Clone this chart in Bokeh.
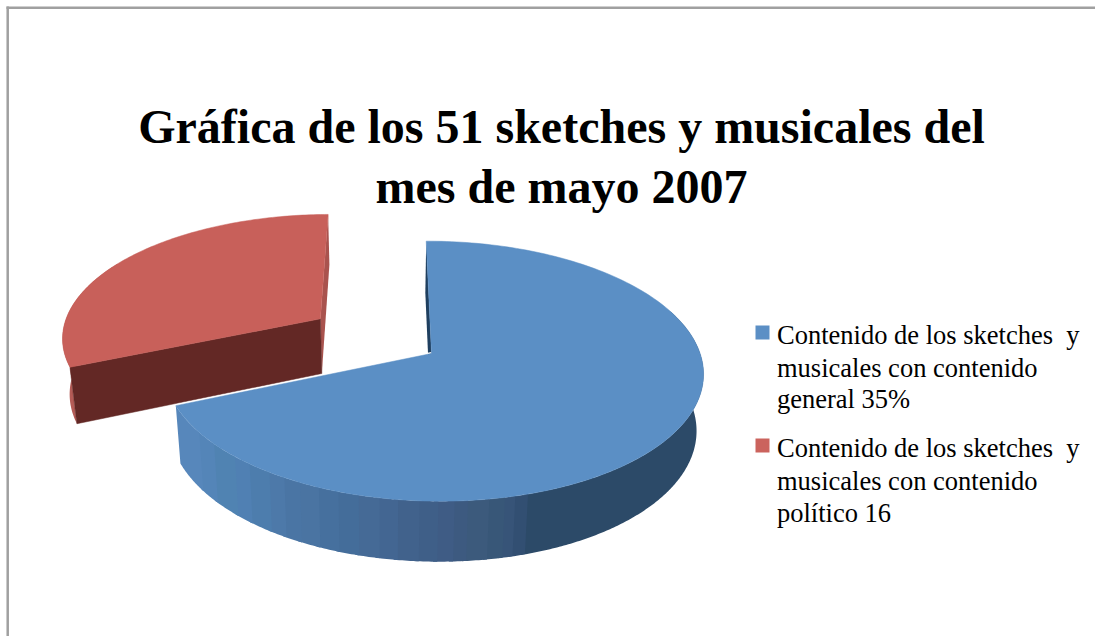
import math
from bokeh.plotting import figure
from bokeh.models import Range1d
from bokeh.core.properties import value
from bokeh.embed import file_html
from bokeh.resources import INLINE

# ---- data ----
categories = ["Contenido general", "Contenido político"]
values = [35, 16]
title_lines = ["Gráfica de los 51 sketches y musicales del", "mes de mayo 2007"]
legend_lines = [
    ["Contenido de los sketches \u00a0y", "musicales con contenido", "general 35%"],
    ["Contenido de los sketches \u00a0y", "musicales con contenido", "político 16"],
]
explosion = [0.0, 0.512]
top_colors = ["#5B8FC5", "#C8605A"]
legend_colors = ["#5B8FC5", "#CB635D"]

# side-wall shading of the blue slice, left to right on screen
wall_x = [176, 200, 215, 235, 250, 270, 285, 300, 320, 340, 360, 380, 400, 420, 440, 455, 470, 490, 505, 517, 528, 710]
wall_c = ["#5787BB", "#5485B8", "#5083B2", "#5080B3", "#4D7DAD", "#4D79A9", "#4A75A4", "#4A74A2", "#46709E",
          "#446D9A", "#456A96", "#436692", "#41628C", "#3F5F88", "#3F5C85", "#3D5A80", "#3C5A7C", "#385778",
          "#375478", "#324F72", "#2C4A68", "#27425E"]

# ---- projection of the pie plane to the page ----
OX, OY = 431.0, 353.0
S, D, K, C, G = 267.0, 6.0, 127.6, 0.136, 0.006
DEPTH, DEPTH_V, SHRINK, VX = 56.0, 4.5, 0.978, 385.0


def proj(u, v, low=False):
    w = 1 - C * v - G * u
    x = OX + (S * u + D * v) / w
    y = OY + K * v / w
    if low:
        x = VX + (x - VX) * SHRINK
        y = y + DEPTH + DEPTH_V * v
    return x, y


def rim(th, off, low=False):
    a = math.radians(th)
    return proj(off[0] + math.sin(a), off[1] - math.cos(a), low)


def arc(a0, a1, off, low=False, n=120):
    return [rim(a0 + (a1 - a0) * i / n, off, low) for i in range(n + 1)]


total = sum(values)
blue_end = values[0] / total * 360.0
mid = (blue_end + 360.0) / 2
rm = math.radians(mid)
red_off = (explosion[1] * math.sin(rm), -explosion[1] * math.cos(rm))
blue_off = (0.0, 0.0)

W, H = 1095, 636
p = figure(width=W, height=H, output_backend="svg", toolbar_location=None,
           x_range=Range1d(0, W), y_range=Range1d(H, 0),
           min_border=0, outline_line_color=None, background_fill_color="white",
           border_fill_color="white", margin=(0, -8, -8, 0))
p.axis.visible = False
p.xaxis.visible = False
p.yaxis.visible = False
p.grid.visible = False


def poly(pts, color, line=None, lw=1):
    p.patch([q[0] for q in pts], [q[1] for q in pts], fill_color=color,
            line_color=line, line_width=lw)


# frame
p.line([7.2, 7.2], [6, H], line_color="#A0A0A0", line_width=2.5)
p.line([6, W], [7.2, 7.2], line_color="#A0A0A0", line_width=2.5)


def wall_color(x):
    for i in range(len(wall_x) - 1):
        if x < wall_x[i + 1]:
            return wall_c[i]
    return wall_c[-1]


# ---- red slice ----
ra = proj(red_off[0], red_off[1])
ral = proj(red_off[0], red_off[1], True)
# outer rim
poly(arc(blue_end, 300, red_off) + arc(blue_end, 300, red_off, True)[::-1], "#B45B56")
# wall at 12 o'clock
poly([rim(360, red_off), rim(360, red_off, True), ral, ra], "#A9534E")
# cut face
poly([rim(blue_end, red_off), ra, ral, rim(blue_end, red_off, True)], "#632825", "#632825", 0.5)
# top
poly([ra] + arc(blue_end, 360, red_off), top_colors[1], top_colors[1], 0.5)

# ---- blue slice ----
ba = proj(0, 0)
bal = proj(0, 0, True)
poly([rim(0, blue_off), rim(0, blue_off, True), bal, ba], "#1F3F5F")
# side wall: one band per shade, each overlapping the next to avoid seams
step = 0.5
th = 70.0
band_start = th
band_color = wall_color(rim(th, blue_off)[0])
while th < blue_end:
    t1 = min(th + step, blue_end)
    c = wall_color(rim(t1, blue_off)[0])
    if c != band_color or t1 >= blue_end:
        t2 = min(t1 + 0.8, blue_end)
        n = max(1, int((t2 - band_start) / 0.5))
        poly(arc(band_start, t2, blue_off, n=n) + arc(band_start, t2, blue_off, True, n=n)[::-1], band_color)
        band_start, band_color = t1, c
    th = t1
# white separation between the slices
e = rim(blue_end, blue_off)
p.line([e[0], ba[0]], [e[1] - 0.8, ba[1] - 0.8], line_color="white", line_width=1.6)
poly([ba] + arc(0, blue_end, blue_off, n=200), top_colors[0], top_colors[0], 0.5)

# ---- title ----
FONT = value("Liberation Serif")
for ln, yb in zip(title_lines, [126, 186]):
    p.text([561], [yb], text=[ln], text_font=FONT, text_font_style="bold", text_font_size="48px",
           text_align="center", text_baseline="alphabetic", text_color="black")

# ---- legend ----
sq = [(755, 325), (755, 438)]
bases = [[334, 367, 398], [447, 480, 512]]
for (sx, sy), c, lines, ys in zip(sq, legend_colors, legend_lines, bases):
    p.quad(left=[sx], right=[sx + 14], top=[sy], bottom=[sy + 14], fill_color=c, line_color=None)
    for ln, yb in zip(lines, ys):
        p.text([776.5], [yb], text=[ln], text_font=FONT, text_font_size="26.5px",
               text_align="left", text_baseline="alphabetic", text_color="black")

open("out.html", "w").write(file_html(p, INLINE))
